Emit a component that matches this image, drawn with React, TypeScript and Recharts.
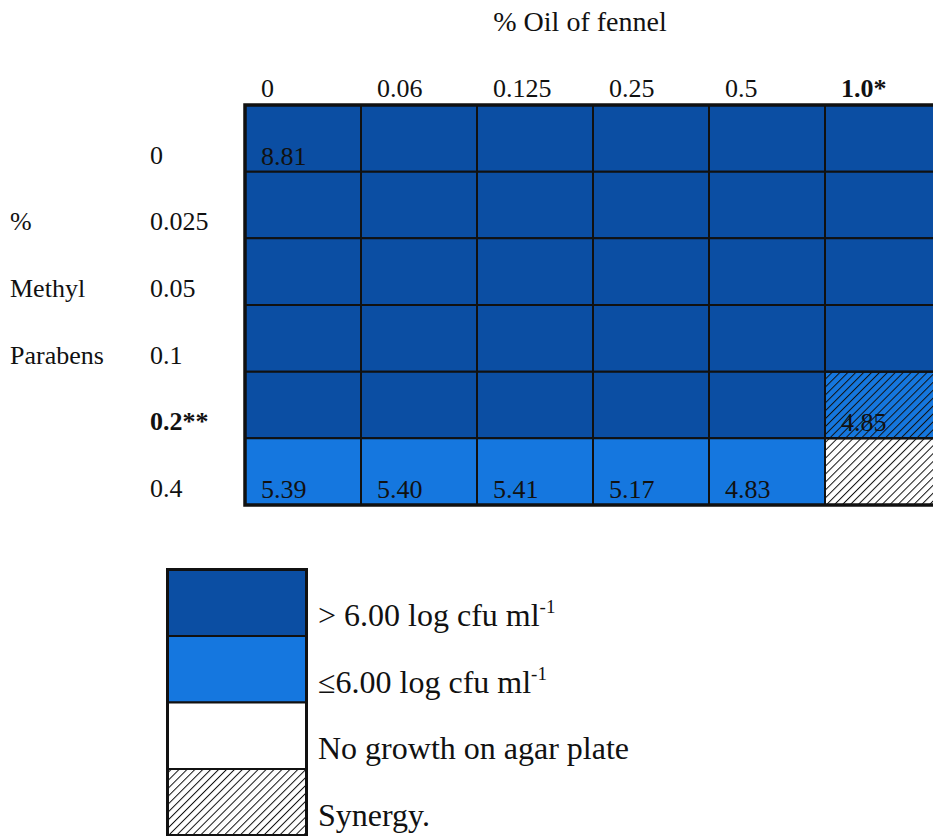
import React from 'react';
import {
  ScatterChart,
  Scatter,
  XAxis,
  YAxis,
  ReferenceArea,
  Legend,
} from 'recharts';

// Checkerboard: % oil of fennel (columns) against % methyl parabens (rows)
const oilLevels = ['0', '0.06', '0.125', '0.25', '0.5', '1.0*'];
const parabenLevels = ['0', '0.025', '0.05', '0.1', '0.2**', '0.4'];
const boldLevels = ['1.0*', '0.2**'];
const parabenTitleLines = ['', '%', 'Methyl', 'Parabens', '', ''];

// growth class of every cell, one list per paraben row
const growthRow0 = ['high', 'high', 'high', 'high', 'high', 'high'];
const growthRow1 = ['high', 'high', 'high', 'high', 'high', 'high'];
const growthRow2 = ['high', 'high', 'high', 'high', 'high', 'high'];
const growthRow3 = ['high', 'high', 'high', 'high', 'high', 'high'];
const growthRow4 = ['high', 'high', 'high', 'high', 'high', 'low'];
const growthRow5 = ['low', 'low', 'low', 'low', 'low', 'none'];
const growthRows = [growthRow0, growthRow1, growthRow2, growthRow3, growthRow4, growthRow5];

// log cfu ml-1 counts printed in cells
const countParaben = ['0', '0.4', '0.4', '0.4', '0.4', '0.4', '0.2**'];
const countOil = ['0', '0', '0.06', '0.125', '0.25', '0.5', '1.0*'];
const countValue = ['8.81', '5.39', '5.40', '5.41', '5.17', '4.83', '4.85'];

// cells showing synergy
const synergyParaben = ['0.2**', '0.4'];
const synergyOil = ['1.0*', '1.0*'];

const legendKeys = ['high', 'low', 'none', 'synergy'];
const legendLabels = ['> 6.00 log cfu ml', '≤6.00 log cfu ml', 'No growth on agar plate', 'Synergy.'];
const legendSup = ['-1', '-1', '', ''];

const COLORS: Record<string, string> = {
  high: '#0B4EA3',
  low: '#1577DF',
  none: '#FFFFFF',
};
const FONT = '"Liberation Serif", "Times New Roman", serif';
const KEY_HEIGHT = 280;

const cells = growthRows.flatMap((row, r) =>
  row.map((g, c) => ({ r, c, g }))
);
const countPoints = countValue.map((v, i) => ({
  x: oilLevels.indexOf(countOil[i]),
  y: parabenLevels.indexOf(countParaben[i]) + 1,
  value: v,
}));
const synergyCells = synergyParaben.map((p, i) => ({
  r: parabenLevels.indexOf(p),
  c: oilLevels.indexOf(synergyOil[i]),
}));

const OilTick = (props: any) => {
  const { x, y, payload } = props;
  const label = oilLevels[payload.value];
  return (
    <text
      x={x + 16}
      y={y - 8}
      fontFamily={FONT}
      fontSize={26}
      fontWeight={boldLevels.includes(label) ? 'bold' : 'normal'}
      fill="#111"
      textAnchor="start"
    >
      {label}
    </text>
  );
};

const ParabenTick = (props: any) => {
  const { x, y, payload } = props;
  const idx = payload.value - 1;
  const label = parabenLevels[idx];
  return (
    <g>
      <text
        x={x - 95}
        y={y - 8}
        fontFamily={FONT}
        fontSize={26}
        fontWeight={boldLevels.includes(label) ? 'bold' : 'normal'}
        fill="#111"
      >
        {label}
      </text>
      {parabenTitleLines[idx] ? (
        <text x={x - 235} y={y - 8} fontFamily={FONT} fontSize={26} fill="#111">
          {parabenTitleLines[idx]}
        </text>
      ) : null}
    </g>
  );
};

const CountLabel = (props: any) => {
  const { cx, cy, payload } = props;
  return (
    <text x={cx + 16} y={cy - 7} fontFamily={FONT} fontSize={26} fill="#111">
      {payload.value}
    </text>
  );
};

const OilTitle = (props: any) => {
  const { viewBox } = props;
  return (
    <text
      x={viewBox.x + 335}
      y={31}
      fontFamily={FONT}
      fontSize={28}
      fill="#111"
      textAnchor="middle"
    >
      % Oil of fennel
    </text>
  );
};

const HatchDefs = ({ id }: { id: string }) => (
  <defs>
    <pattern
      id={id}
      patternUnits="userSpaceOnUse"
      width={5.6}
      height={5.6}
      patternTransform="rotate(45)"
    >
      <line x1={0} y1={0} x2={0} y2={5.6} stroke="#111" strokeWidth={2} />
    </pattern>
  </defs>
);

const KeyBox = () => {
  const rowH = 66.5;
  const boxW = 139;
  return (
    <svg width={480} height={KEY_HEIGHT} style={{ display: 'block' }}>
      <HatchDefs id="hatchKey" />
      {legendKeys.map((k, i) => (
        <g key={k}>
          <rect
            x={1.5}
            y={1.5 + i * rowH}
            width={boxW}
            height={rowH}
            fill={k === 'synergy' ? '#FFFFFF' : COLORS[k]}
            stroke="#111"
            strokeWidth={2}
          />
          {k === 'synergy' ? (
            <rect x={1.5} y={1.5 + i * rowH} width={boxW} height={rowH} fill="url(#hatchKey)" />
          ) : null}
          <text
            x={152}
            y={58 + i * rowH}
            fontFamily={FONT}
            fontSize={32}
            fill="#111"
          >
            {legendLabels[i]}
            {legendSup[i] ? (
              <tspan fontSize={19} dy={-13}>
                {legendSup[i]}
              </tspan>
            ) : null}
          </text>
        </g>
      ))}
      <rect
        x={1.5}
        y={1.5}
        width={boxW}
        height={rowH * 4}
        fill="none"
        stroke="#111"
        strokeWidth={3}
      />
    </svg>
  );
};

export default function App() {
  return (
    <div
      style={{
        position: 'absolute',
        left: 0,
        top: 0,
        width: 933,
        height: 836,
        overflow: 'hidden',
        background: '#fff',
      }}
    >
      <ScatterChart
        width={960}
        height={836}
        margin={{ top: 0, right: 19, bottom: 331 - KEY_HEIGHT, left: 0 }}
      >
        <HatchDefs id="hatchGrid" />
        <XAxis
          type="number"
          dataKey="x"
          xAxisId="oil"
          orientation="top"
          domain={[0, 6]}
          ticks={[0, 1, 2, 3, 4, 5]}
          height={105}
          axisLine={false}
          tickLine={false}
          tickSize={0}
          tickMargin={0}
          tick={<OilTick />}
          interval={0}
          allowDataOverflow
          label={<OilTitle />}
        />
        <YAxis
          type="number"
          dataKey="y"
          yAxisId="paraben"
          domain={[0, 6]}
          reversed
          ticks={[1, 2, 3, 4, 5, 6]}
          width={245}
          axisLine={false}
          tickLine={false}
          tickSize={0}
          tickMargin={0}
          tick={<ParabenTick />}
          interval={0}
          allowDataOverflow
        />
        {cells.map((cell) => (
          <ReferenceArea
            key={`cell-${cell.r}-${cell.c}`}
            xAxisId="oil"
            yAxisId="paraben"
            x1={cell.c}
            x2={cell.c + 1}
            y1={cell.r}
            y2={cell.r + 1}
            fill={COLORS[cell.g]}
            fillOpacity={1}
            stroke="#111"
            strokeWidth={2}
          />
        ))}
        {synergyCells.map((cell) => (
          <ReferenceArea
            key={`syn-${cell.r}-${cell.c}`}
            xAxisId="oil"
            yAxisId="paraben"
            x1={cell.c}
            x2={cell.c + 1}
            y1={cell.r}
            y2={cell.r + 1}
            fill="url(#hatchGrid)"
            fillOpacity={1}
            stroke="#111"
            strokeWidth={2}
          />
        ))}
        <ReferenceArea
          xAxisId="oil"
          yAxisId="paraben"
          x1={0}
          x2={6}
          y1={0}
          y2={6}
          fill="none"
          stroke="#111"
          strokeWidth={3.5}
        />
        <Scatter
          data={countPoints}
          xAxisId="oil"
          yAxisId="paraben"
          shape={<CountLabel />}
          isAnimationActive={false}
        />
        <Legend
          content={<KeyBox />}
          verticalAlign="bottom"
          wrapperStyle={{ position: 'absolute', left: 166, top: 568, width: 480 }}
        />
      </ScatterChart>
    </div>
  );
}
